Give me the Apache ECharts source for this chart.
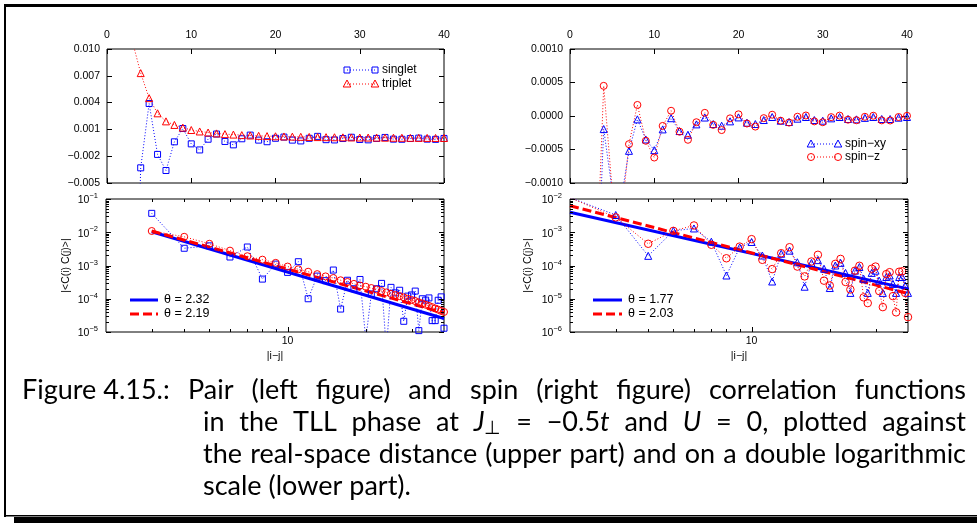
<!DOCTYPE html>
<html>
<head>
<meta charset="utf-8">
<script src="https://cdn.jsdelivr.net/npm/echarts@6/dist/echarts.min.js"></script>
<style>
html,body{margin:0;padding:0;background:#fff;}
#chart{width:977px;height:523px;}
</style>
</head>
<body>
<div id="chart"></div>
<script>
// ---- pair correlations (distance |i-j| = 3..40) ----
const pairDist = [3,4,5,6,7,8,9,10,11,12,13,14,15,16,17,18,19,20,21,22,23,24,25,26,27,28,29,30,31,32,33,34,35,36,37,38,39,40];
const singlet = [-0.037,-0.0033,0.0039,-0.0018,-0.0036,-0.00039,0.0011,-0.00062,-0.0013,-0.0001,
  0.00048,-0.00035,-0.00073,-0.000049,0.00036,-0.0002,-0.00038,0.000006,0.00014,-0.0002,
  -0.00029,0.000003,0.00022,-0.00015,-0.00018,-0.000021,0.00012,-0.00013,-0.00017,-0.000011,
  0.0001,-0.000091,-0.000106,-0.000022,0.000022,-0.00009,-0.000114,-0.000013];
const triplet = [0.0109,0.0073,0.0045,0.0028,0.0019,0.0015,0.0012,0.00093,0.00077,0.00065,
  0.00055,0.00047,0.00042,0.00036,0.00032,0.00028,0.00025,0.00023,0.00021,0.00019,
  0.00017,0.000155,0.00014,0.00013,0.00012,0.00011,0.0001,0.000092,0.000085,0.000078,
  0.000072,0.000066,0.000061,0.000056,0.000051,0.000047,0.000043,0.00004];

// ---- spin correlations (distance |i-j| = 2..40) ----
const spinDist = [2,3,4,5,6,7,8,9,10,11,12,13,14,15,16,17,18,19,20,21,22,23,24,25,26,27,28,29,30,31,32,33,34,35,36,37,38,39,40];
const spinXY = [-0.011,-0.0033,-0.000195,-0.0011,-0.0013,-0.00052,-0.00005,-0.00035,-0.00051,-0.0002,
  -0.000033,-0.000225,-0.00028,-0.000125,-0.000023,-0.00012,-0.000145,-0.00008,-0.000021,-0.0001,
  -0.00012,-0.00006,-0.000015,-0.00007,-0.00009,-0.00004,-0.000015,-0.00006,-0.00007,-0.000035,
  -0.000015,-0.000045,-0.00005,-0.000028,-0.000015,-0.000045,-0.000045,-0.000025,-0.000015];
const spinZ = [-0.011,-0.0028,0.00045,-0.0011,-0.0016,-0.00042,0.000165,-0.00037,-0.00062,-0.000148,
  0.000078,-0.000234,-0.000355,-0.000093,0.000047,-0.000132,-0.00021,-0.000035,0.000025,-0.000112,
  -0.000158,-0.000032,0.000019,-0.00007,-0.000098,-0.000011,0.0000074,-0.00008,-0.000093,-0.000017,
  0.0000056,-0.000055,-0.000063,-0.000012,0.0000039,-0.000065,-0.000067,-0.000015,0.0000028];

// ---- power-law fits C(r) = A * r^(-theta) ----
const pairFitTheta = [2.32, 2.19];
const pairFitAmp = [0.1325, 0.1208];
const pairFitRange = [3, 40];
const spinFitTheta = [1.77, 2.03];
const spinFitAmp = [0.0136, 0.0257];
const spinFitRange = [2, 40];

// ---- legend texts ----
const pairNames = ['singlet', 'triplet'];
const spinNames = ['spin\u2212xy', 'spin\u2212z'];
const pairFitLabels = ['\u03b8 = 2.32', '\u03b8 = 2.19'];
const spinFitLabels = ['\u03b8 = 1.77', '\u03b8 = 2.03'];

const BLUE = '#0000ff', RED = '#ff0000';
const FONT = 'Liberation Sans';
const DOT = [1, 2];

const abs = a => a.map(Math.abs);
const pts = (xs, ys) => xs.map((x, i) => [x, ys[i]]);
const fitPts = (amp, theta, range) => range.map(r => [r, amp * Math.pow(r, -theta)]);

const linFmt = d => v => {
  if (Math.abs(v) < 1e-12) v = 0;
  return (v < 0 ? '\u2212' : '') + Math.abs(v).toFixed(d);
};
const logFmt = v => {
  const l = Math.log10(v), e = Math.round(l);
  if (Math.abs(l - e) > 1e-6) return '';
  return '{b|10}{s|' + (e < 0 ? '\u2212' : '') + Math.abs(e) + '}';
};
const logXFmt = v => {
  const l = Math.log10(v), e = Math.round(l);
  return Math.abs(l - e) > 1e-6 ? '' : String(Math.round(v));
};

const labelStyle = { fontFamily: FONT, fontSize: 10.5, color: '#000' };
const richLog = {
  b: { fontFamily: FONT, fontSize: 10.5, color: '#000', lineHeight: 14, verticalAlign: 'bottom' },
  s: { fontFamily: FONT, fontSize: 7.5, color: '#000', lineHeight: 8, verticalAlign: 'top' }
};
const tick = { show: true, inside: true, length: 5, lineStyle: { color: '#000', width: 1 } };
const noLine = { show: false, onZero: false };

const grids = [
  { left: 107, top: 49, width: 337, height: 134 },
  { left: 106, top: 199, width: 338, height: 133 },
  { left: 570, top: 49, width: 337, height: 134 },
  { left: 570, top: 199, width: 338, height: 133 }
].map(g => Object.assign({ show: true, borderColor: '#000', borderWidth: 1, backgroundColor: 'transparent' }, g));

const xAxes = [], yAxes = [];
function linAxes(gi, yMin, yMax, yInt, digits) {
  const xi = xAxes.length, yi = yAxes.length;
  xAxes.push({ gridIndex: gi, type: 'value', position: 'top', min: 0, max: 40, interval: 10,
    axisLine: noLine, splitLine: { show: false }, axisTick: tick,
    axisLabel: Object.assign({ margin: 8 }, labelStyle) });
  xAxes.push({ gridIndex: gi, type: 'value', position: 'bottom', min: 0, max: 40, interval: 10,
    axisLine: noLine, splitLine: { show: false }, axisTick: tick, axisLabel: { show: false } });
  yAxes.push({ gridIndex: gi, type: 'value', position: 'left', min: yMin, max: yMax, interval: yInt,
    axisLine: noLine, splitLine: { show: false }, axisTick: tick,
    axisLabel: Object.assign({ margin: 7, formatter: linFmt(digits) }, labelStyle) });
  yAxes.push({ gridIndex: gi, type: 'value', position: 'right', min: yMin, max: yMax, interval: yInt,
    axisLine: noLine, splitLine: { show: false }, axisTick: tick, axisLabel: { show: false } });
  return [xi, yi];
}
function logAxes(gi, yMin, yMax, nameGap) {
  const xi = xAxes.length, yi = yAxes.length;
  xAxes.push({ gridIndex: gi, type: 'log', logBase: 10, min: 2, max: 40, position: 'bottom',
    axisLine: noLine, splitLine: { show: false }, axisTick: { show: false },
    axisLabel: Object.assign({ margin: 4, formatter: logXFmt, showMinLabel: false, showMaxLabel: false }, labelStyle),
    name: '|i\u2212j|', nameLocation: 'middle', nameGap: 19,
    nameTextStyle: { fontFamily: FONT, fontSize: 10.5, color: '#000' } });
  yAxes.push({ gridIndex: gi, type: 'log', logBase: 10, min: yMin, max: yMax, position: 'left',
    axisLine: noLine, splitLine: { show: false }, axisTick: { show: false },
    axisLabel: { margin: 8, formatter: logFmt, rich: richLog },
    name: '|<C(i) C(j)>|', nameLocation: 'middle', nameGap: nameGap,
    nameTextStyle: { fontFamily: FONT, fontSize: 10.5, color: '#000' } });
  return [xi, yi];
}

// tick marks of the logarithmic boxes (major and minor, on all four sides)
function logTicks(xi, yi, yMin, yMax) {
  const data = [];
  [3,4,5,6,7,8,9,10,20,30].forEach(v => data.push([v, yMin * 10, 0, v === 10 ? 5 : 3]));
  for (let d = yMin; d <= yMax * 1.0001; d *= 10) {
    data.push([10, d, 1, 5]);
    if (d < yMax / 1.0001) for (let m = 2; m <= 9; m++) data.push([10, d * m, 1, 3]);
  }
  return {
    type: 'custom', xAxisIndex: xi, yAxisIndex: yi, silent: true, clip: false, z: 6, data,
    renderItem(params, api) {
      const cs = params.coordSys;
      const p = api.coord([api.value(0), api.value(1)]);
      const len = api.value(3);
      const st = { stroke: '#000', lineWidth: 1 };
      if (api.value(2) === 0) {
        const x = Math.round(p[0]) + 0.5, b = cs.y + cs.height;
        return { type: 'group', children: [
          { type: 'line', shape: { x1: x, y1: b, x2: x, y2: b - len }, style: st },
          { type: 'line', shape: { x1: x, y1: cs.y, x2: x, y2: cs.y + len }, style: st } ] };
      }
      const y = Math.round(p[1]) + 0.5, r = cs.x + cs.width;
      return { type: 'group', children: [
        { type: 'line', shape: { x1: cs.x, y1: y, x2: cs.x + len, y2: y }, style: st },
        { type: 'line', shape: { x1: r, y1: y, x2: r - len, y2: y }, style: st } ] };
    }
  };
}

function dataLine(xi, yi, data, color, symbol, size) {
  return { type: 'line', xAxisIndex: xi, yAxisIndex: yi, data, clip: true, z: 4,
    symbol, symbolSize: size, showSymbol: true,
    itemStyle: { color: 'rgba(0,0,0,0)', borderColor: color, borderWidth: 1 },
    lineStyle: { color, width: 1, type: DOT } };
}
function fitLine(xi, yi, data, color, dashed) {
  return { type: 'line', xAxisIndex: xi, yAxisIndex: yi, data, clip: true, z: 3,
    symbol: 'none', lineStyle: { color, width: 3, type: dashed ? [9, 4] : 'solid' } };
}

const [tlx, tly] = linAxes(0, -0.005, 0.010, 0.003, 3);
const [blx, bly] = logAxes(1, 1e-5, 1e-1, 34);
const [trx, try_] = linAxes(2, -0.0010, 0.0010, 0.0005, 4);
const [brx, bry] = logAxes(3, 1e-6, 1e-2, 36);

const series = [
  dataLine(tlx, tly, pts(pairDist, singlet), BLUE, 'rect', 6),
  dataLine(tlx, tly, pts(pairDist, triplet), RED, 'triangle', 7),
  fitLine(blx, bly, fitPts(pairFitAmp[0], pairFitTheta[0], pairFitRange), BLUE, false),
  fitLine(blx, bly, fitPts(pairFitAmp[1], pairFitTheta[1], pairFitRange), RED, true),
  dataLine(blx, bly, pts(pairDist, abs(singlet)), BLUE, 'rect', 6),
  dataLine(blx, bly, pts(pairDist, abs(triplet)), RED, 'circle', 7),
  logTicks(blx, bly, 1e-5, 1e-1),
  dataLine(trx, try_, pts(spinDist, spinXY), BLUE, 'triangle', 7),
  dataLine(trx, try_, pts(spinDist, spinZ), RED, 'circle', 7),
  fitLine(brx, bry, fitPts(spinFitAmp[0], spinFitTheta[0], spinFitRange), BLUE, false),
  fitLine(brx, bry, fitPts(spinFitAmp[1], spinFitTheta[1], spinFitRange), RED, true),
  dataLine(brx, bry, pts(spinDist, abs(spinXY)), BLUE, 'triangle', 7),
  dataLine(brx, bry, pts(spinDist, abs(spinZ)), RED, 'circle', 7.5),
  logTicks(brx, bry, 1e-6, 1e-2)
];

// ---- legends ----
const graphics = [];
function marker(kind, cx, cy, color) {
  const st = { fill: 'none', stroke: color, lineWidth: 1 };
  if (kind === 'rect') return { type: 'rect', shape: { x: cx - 3, y: cy - 3, width: 6, height: 6 }, style: st, z: 20 };
  if (kind === 'triangle') return { type: 'polygon', shape: { points: [[cx, cy - 4], [cx - 3.8, cy + 3], [cx + 3.8, cy + 3]] }, style: st, z: 20 };
  return { type: 'circle', shape: { cx, cy, r: 3.5 }, style: st, z: 20 };
}
function legendText(x, y, text, size) {
  return { type: 'text', x, y, z: 20, style: { text, fill: '#000', font: size + 'px "' + FONT + '"',
    textAlign: 'left', align: 'left', textVerticalAlign: 'middle', verticalAlign: 'middle' } };
}
function dataLegend(x1, x2, y, color, kind, text) {
  graphics.push({ type: 'line', z: 20, shape: { x1, y1: y, x2, y2: y }, style: { stroke: color, lineWidth: 1, lineDash: DOT } });
  graphics.push(marker(kind, x1, y, color), marker(kind, x2, y, color));
  graphics.push(legendText(x2 + 7, y, text, 12));
}
function fitLegend(x1, x2, y, color, dashed, text) {
  graphics.push({ type: 'line', z: 20, shape: { x1, y1: y, x2, y2: y },
    style: { stroke: color, lineWidth: 3, lineDash: dashed ? [9, 4] : null } });
  graphics.push(legendText(x2 + 6, y, text, 12.5));
}
dataLegend(347, 375, 70, BLUE, 'rect', pairNames[0]);
dataLegend(347, 375, 84, RED, 'triangle', pairNames[1]);
fitLegend(130, 158, 300, BLUE, false, pairFitLabels[0]);
fitLegend(130, 158, 314, RED, true, pairFitLabels[1]);
dataLegend(811, 838, 144, BLUE, 'triangle', spinNames[0]);
dataLegend(811, 838, 157, RED, 'circle', spinNames[1]);
fitLegend(593, 622, 300, BLUE, false, spinFitLabels[0]);
fitLegend(593, 622, 314, RED, true, spinFitLabels[1]);

// ---- framed caption box ----
[[4, 4, 973, 3], [4, 4, 2, 513], [4, 515, 973, 1.5], [14, 517, 963, 6]].forEach(r =>
  graphics.push({ type: 'rect', z: 30, shape: { x: r[0], y: r[1], width: r[2], height: r[3] }, style: { fill: '#000' } }));

// ---- caption, justified word by word ----
const CAP = 'Lato';
const capFs = 27;
const ctx = document.createElement('canvas').getContext('2d');
const pieceFont = (style) => {
  if (style === 'i') return 'italic ' + capFs + 'px ' + CAP;
  if (style === 'sub') return Math.round(capFs * 0.7) + 'px ' + CAP;
  return capFs + 'px ' + CAP;
};
const measure = (t, style) => { ctx.font = pieceFont(style); return ctx.measureText(t).width; };
const words = s => s.split(' ').map(w => [[w, 'n']]);
const capLines = [
  { x0: 188, x1: 966, y: 400, justify: true, words: words('Pair (left figure) and spin (right figure) correlation functions') },
  { x0: 203, x1: 966, y: 432, justify: true, words: [
    [['in', 'n']], [['the', 'n']], [['TLL', 'n']], [['phase', 'n']], [['at', 'n']],
    [['J', 'i'], ['\u22a5', 'sub']], [['=', 'n']], [['\u22120.5', 'n'], ['t', 'i']], [['and', 'n']],
    [['U', 'i']], [['=', 'n']], [['0,', 'n']], [['plotted', 'n']], [['against', 'n']] ] },
  { x0: 203, x1: 966, y: 464, justify: true, words: words('the real-space distance (upper part) and on a double logarithmic') },
  { x0: 203, x1: 966, y: 496, justify: false, words: words('scale (lower part).') }
];
function capText(x, y, t, style) {
  const dy = style === 'sub' ? capFs * 0.22 : 0;
  return { type: 'text', x, y: y - capFs * 0.36 + dy, z: 30, style: { text: t, fill: '#000', font: pieceFont(style),
    textAlign: 'left', align: 'left', textVerticalAlign: 'middle', verticalAlign: 'middle' } };
}
graphics.push(capText(22, 400, 'Figure 4.15.:', 'n'));
capLines.forEach(line => {
  const widths = line.words.map(w => w.reduce((s, p) => s + measure(p[0], p[1]), 0));
  const total = widths.reduce((a, b) => a + b, 0);
  const gap = line.justify ? (line.x1 - line.x0 - total) / (line.words.length - 1) : measure(' ', 'n');
  let x = line.x0;
  line.words.forEach((w, i) => {
    let px = x;
    w.forEach(p => { graphics.push(capText(px, line.y, p[0], p[1])); px += measure(p[0], p[1]); });
    x += widths[i] + gap;
  });
});

const chart = echarts.init(document.getElementById('chart'), null, { renderer: 'canvas' });
chart.setOption({
  animation: false,
  backgroundColor: '#fff',
  grid: grids,
  xAxis: xAxes,
  yAxis: yAxes,
  series,
  graphic: { elements: graphics }
});
</script>
</body>
</html>
